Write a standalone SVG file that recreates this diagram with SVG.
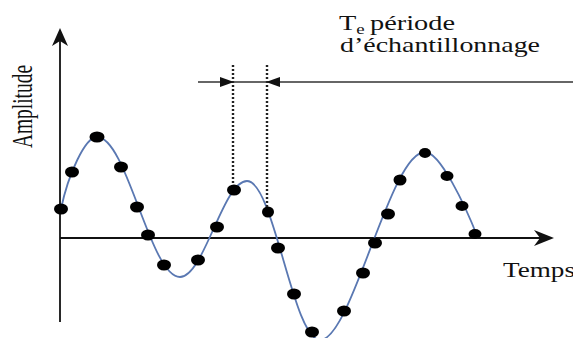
<svg xmlns="http://www.w3.org/2000/svg" width="573" height="338" viewBox="0 0 573 338">
  <style>
    .txt { font-family: "Liberation Serif", "Times New Roman", serif; fill: #111; }
    .axis { stroke: #111; stroke-width: 1.8; fill: none; }
    .dot { fill: #000; }
    .dotted { stroke: #222; stroke-width: 2.4; stroke-dasharray: 2 2; fill: none; }
    .curve { stroke: #5a78b2; stroke-width: 1.8; fill: none; }
    .head { fill: #111; }
  </style>
  <rect width="573" height="338" fill="#fff"/>

  <g id="axes">
    <line class="axis" x1="60" y1="40" x2="60" y2="322"/>
    <path class="head" d="M60,28 L68,46 L60,41 L52,46 Z"/>
    <line class="axis" x1="60" y1="238" x2="545" y2="238"/>
    <path class="head" d="M554,238 L534,230 L540,238 L534,246 Z"/>
  </g>

  <g id="signal">
    <path class="curve" d="M61,209 C68,175 85,137 97,137 C127,137 150,277 180,277 C204,277 223,181 247,181 C274,181 293,340 320,340 C352,340 390,152 425,152 C440,152 465,205 478,238"/>
  </g>

  <g id="samples">
    <ellipse class="dot" cx="61" cy="209" rx="7" ry="5.5"/>
    <ellipse class="dot" cx="72" cy="172" rx="7" ry="5.5"/>
    <ellipse class="dot" cx="97" cy="137" rx="7.5" ry="5.5"/>
    <ellipse class="dot" cx="121" cy="167" rx="7" ry="5.5"/>
    <ellipse class="dot" cx="137" cy="207" rx="7" ry="5.5"/>
    <ellipse class="dot" cx="148" cy="235" rx="7" ry="5.5"/>
    <ellipse class="dot" cx="164" cy="265" rx="7" ry="5.5"/>
    <ellipse class="dot" cx="198" cy="260" rx="7" ry="5.5"/>
    <ellipse class="dot" cx="217" cy="227" rx="7" ry="5.5"/>
    <ellipse class="dot" cx="234" cy="190" rx="7" ry="5.5"/>
    <ellipse class="dot" cx="268" cy="212" rx="6" ry="5.5"/>
    <ellipse class="dot" cx="278" cy="248" rx="7" ry="5.5"/>
    <ellipse class="dot" cx="294" cy="294" rx="7" ry="5.5"/>
    <ellipse class="dot" cx="312" cy="332" rx="7" ry="5.5"/>
    <ellipse class="dot" cx="344" cy="311" rx="7" ry="5.5"/>
    <ellipse class="dot" cx="363" cy="273" rx="7" ry="5.5"/>
    <ellipse class="dot" cx="375" cy="243" rx="7" ry="5.5"/>
    <ellipse class="dot" cx="388" cy="214" rx="7" ry="5.5"/>
    <ellipse class="dot" cx="400" cy="180" rx="6.5" ry="5.5"/>
    <ellipse class="dot" cx="425" cy="153" rx="6" ry="5"/>
    <ellipse class="dot" cx="447" cy="176" rx="6.5" ry="5"/>
    <ellipse class="dot" cx="462" cy="206" rx="6.5" ry="5"/>
    <ellipse class="dot" cx="475" cy="234" rx="6.5" ry="5"/>
  </g>

  <g id="period-marker">
    <line class="dotted" x1="233" y1="65" x2="233" y2="185"/>
    <line class="dotted" x1="267" y1="65" x2="267" y2="207"/>
    <line stroke="#333" stroke-width="1.6" x1="198" y1="82" x2="573" y2="82"/>
    <path class="head" d="M234,82 L220,77 L220,87 Z"/>
    <path class="head" d="M266,82 L280,77 L280,87 Z"/>
  </g>

  <g id="labels">
    <text class="txt" font-size="20" transform="translate(32,148) scale(1.45,1) rotate(-90)" textLength="83" lengthAdjust="spacingAndGlyphs">Amplitude</text>
    <text class="txt" font-size="21" transform="translate(339,30) scale(1.35,1)">T<tspan font-size="14" dy="4">e</tspan><tspan x="23" dy="-4">période</tspan></text>
    <text class="txt" font-size="21" x="340" y="52" textLength="200" lengthAdjust="spacingAndGlyphs">d’échantillonnage</text>
    <text class="txt" font-size="20" x="503" y="277" textLength="72" lengthAdjust="spacingAndGlyphs">Temps</text>
  </g>
</svg>
